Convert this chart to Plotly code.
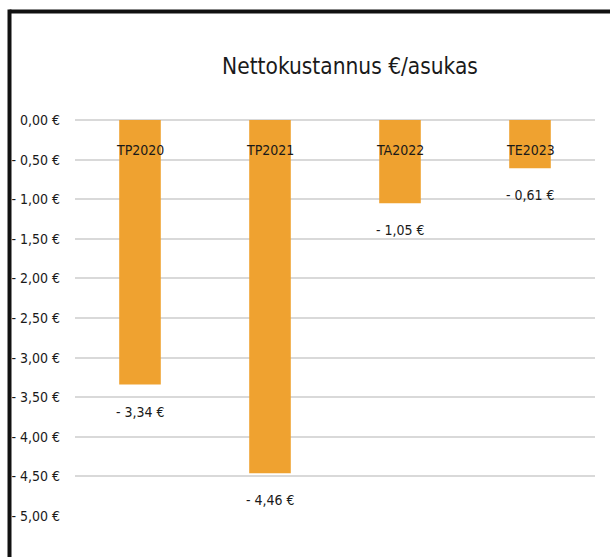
import plotly.graph_objects as go

categories = ["TP2020", "TP2021", "TA2022", "TE2023"]
values = [-3.34, -4.46, -1.05, -0.61]
tick_vals = [0, -0.5, -1, -1.5, -2, -2.5, -3, -3.5, -4, -4.5, -5]


def fmt_eur(v):
    s = f"{abs(v):.2f}".replace(".", ",") + " €"
    return ("- " + s) if v < 0 else s


tick_text = [fmt_eur(v) for v in tick_vals]
label_text = [fmt_eur(v) for v in values]

FONT = "DejaVu Sans Condensed, sans-serif"
BAR = "#EFA230"
TXT = "#1a1a1a"

fig = go.Figure()
fig.add_trace(go.Bar(
    x=categories, y=values, marker=dict(color=BAR, line=dict(width=0)),
    width=0.32, hoverinfo="skip",
))

W, H = 610, 557
ML, MR, MT, MB = 75, 15, 120, 41
pw, ph = W - ML - MR, H - MT - MB

annotations = []
for c in categories:
    annotations.append(dict(x=c, y=0, xref="x", yref="y", text=c, showarrow=False,
                            yshift=-30, font=dict(family=FONT, size=14, color=TXT)))
for c, v, t in zip(categories, values, label_text):
    annotations.append(dict(x=c, y=v, xref="x", yref="y", text=t, showarrow=False,
                            yshift=-27, font=dict(family=FONT, size=14, color=TXT)))


def px_x(p):
    return (p - ML) / pw


def px_y(p):
    return (H - MB - p) / ph


shapes = [
    dict(type="line", xref="paper", yref="paper", x0=px_x(9.5), x1=px_x(620),
         y0=px_y(11.5), y1=px_y(11.5), line=dict(color="#111111", width=4)),
    dict(type="line", xref="paper", yref="paper", x0=px_x(9.5), x1=px_x(9.5),
         y0=px_y(9.5), y1=px_y(570), line=dict(color="#111111", width=4)),
]

fig.update_layout(
    width=W, height=H,
    margin=dict(l=ML, r=MR, t=MT, b=MB, autoexpand=False),
    paper_bgcolor="white", plot_bgcolor="white",
    showlegend=False,
    title=dict(text="Nettokustannus €/asukas", x=(350 - ML) / pw, xref="paper", xanchor="center",
               y=1 - 66 / H, yanchor="middle", yref="container",
               font=dict(family=FONT, size=22.5, color=TXT)),
    xaxis=dict(showticklabels=False, showgrid=False, zeroline=False, showline=False,
               ticks="", fixedrange=True, automargin=False),
    yaxis=dict(range=[-5, 0], tickvals=tick_vals, ticktext=tick_text,
               showgrid=True, gridcolor="#D9D9D9", gridwidth=2,
               zeroline=True, zerolinecolor="#D9D9D9", zerolinewidth=2,
               showline=False, ticks="", ticklabelstandoff=14, automargin=False,
               fixedrange=True, tickfont=dict(family=FONT, size=14, color=TXT)),
    annotations=annotations,
    shapes=shapes,
)

fig.write_html("out.html", config={"displayModeBar": False, "staticPlot": True},
               post_script="document.body.style.margin='0';document.body.style.overflow='hidden';")
